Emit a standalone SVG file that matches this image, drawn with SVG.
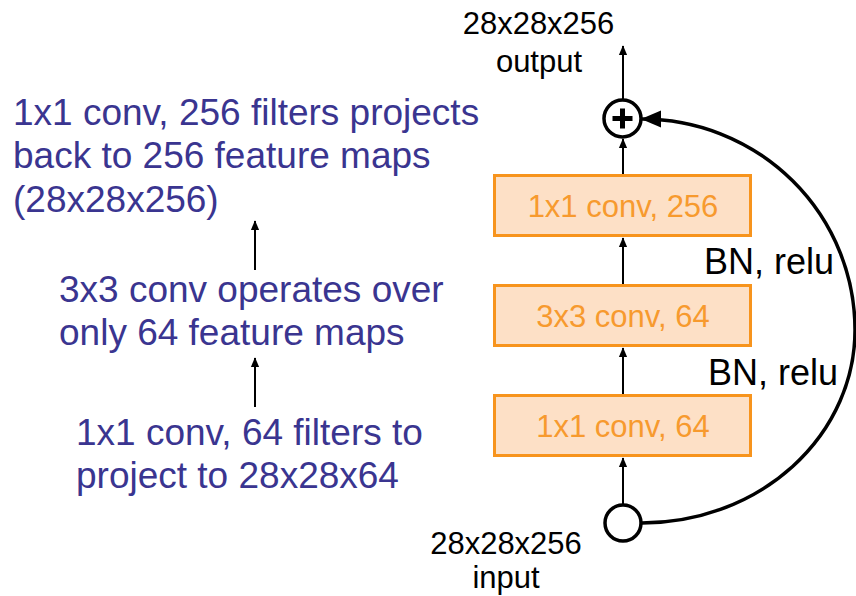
<svg xmlns="http://www.w3.org/2000/svg" width="856" height="596" viewBox="0 0 856 596">
<style>
.box{fill:#fde0c6;stroke:#f7941d;stroke-width:3}
.btxt{font-family:"Liberation Sans",Arial,sans-serif;font-size:31px;fill:#f79a2e;text-anchor:middle}
.blue{font-family:"Liberation Sans",Arial,sans-serif;font-size:37px;fill:#3a3590}
.lbl{font-family:"Liberation Sans",Arial,sans-serif;font-size:31px;fill:#000;text-anchor:middle}
.bn{font-family:"Liberation Sans",Arial,sans-serif;font-size:36px;fill:#000}
.ln{stroke:#000;stroke-width:2;fill:none}
</style>
<defs>
<marker id="ah" markerUnits="userSpaceOnUse" markerWidth="10" markerHeight="12" refX="11" refY="5" viewBox="0 0 12 10" orient="auto">
<path d="M0,0 L12,5 L0,10 z" fill="#000"/>
</marker>
<marker id="ahb" markerUnits="userSpaceOnUse" markerWidth="20" markerHeight="18" refX="19" refY="8.5" viewBox="0 0 20 17" orient="auto">
<path d="M0,0 L20,8.5 L0,17 z" fill="#000"/>
</marker>
</defs>
<g id="connectors">
<line class="ln" x1="623" y1="99" x2="623" y2="46" marker-end="url(#ah)"/>
<line class="ln" x1="623" y1="174" x2="623" y2="139" marker-end="url(#ah)"/>
<line class="ln" x1="623" y1="284" x2="623" y2="238" marker-end="url(#ah)"/>
<line class="ln" x1="623" y1="394" x2="623" y2="348" marker-end="url(#ah)"/>
<line class="ln" x1="623" y1="504" x2="623" y2="458" marker-end="url(#ah)"/>
<path d="M642,523 A213,193 0 0 0 855,330 A213,211 0 0 0 642,119" fill="none" stroke="#000" stroke-width="3.5" marker-end="url(#ahb)"/>
<line class="ln" x1="255" y1="270" x2="255" y2="221" marker-end="url(#ah)"/>
<line class="ln" x1="255" y1="407" x2="255" y2="358" marker-end="url(#ah)"/>
</g>
<g id="plus">
<circle cx="622.5" cy="118.5" r="18.5" fill="#fff" stroke="#000" stroke-width="3.5"/>
<path d="M612.5,118.5 H632.5 M622.5,108.5 V128.5" stroke="#000" stroke-width="5"/>
</g>
<g id="input-node">
<circle cx="623" cy="523" r="18" fill="#fff" stroke="#000" stroke-width="3.5"/>
</g>
<g id="box-top">
<rect class="box" x="494.5" y="175.5" width="256" height="60"/>
<text class="btxt" x="623" y="217">1x1 conv, 256</text>
</g>
<g id="box-mid">
<rect class="box" x="494.5" y="285.5" width="256" height="60"/>
<text class="btxt" x="623" y="327">3x3 conv, 64</text>
</g>
<g id="box-bot">
<rect class="box" x="494.5" y="395.5" width="256" height="60"/>
<text class="btxt" x="623" y="437">1x1 conv, 64</text>
</g>
<g id="output-label">
<text class="lbl" x="538.5" y="34">28x28x256</text>
<text class="lbl" x="539" y="72">output</text>
</g>
<g id="input-label">
<text class="lbl" x="506" y="554">28x28x256</text>
<text class="lbl" x="506" y="588">input</text>
</g>
<g id="bn-labels">
<text class="bn" x="704" y="274">BN, relu</text>
<text class="bn" x="708" y="385">BN, relu</text>
</g>
<g id="notes">
<text class="blue" x="13" y="125">1x1 conv, 256 filters projects</text>
<text class="blue" x="13" y="168">back to 256 feature maps</text>
<text class="blue" x="13" y="212">(28x28x256)</text>
<text class="blue" x="59" y="302">3x3 conv operates over</text>
<text class="blue" x="59" y="345">only 64 feature maps</text>
<text class="blue" x="76" y="445">1x1 conv, 64 filters to</text>
<text class="blue" x="76" y="488">project to 28x28x64</text>
</g>
</svg>
